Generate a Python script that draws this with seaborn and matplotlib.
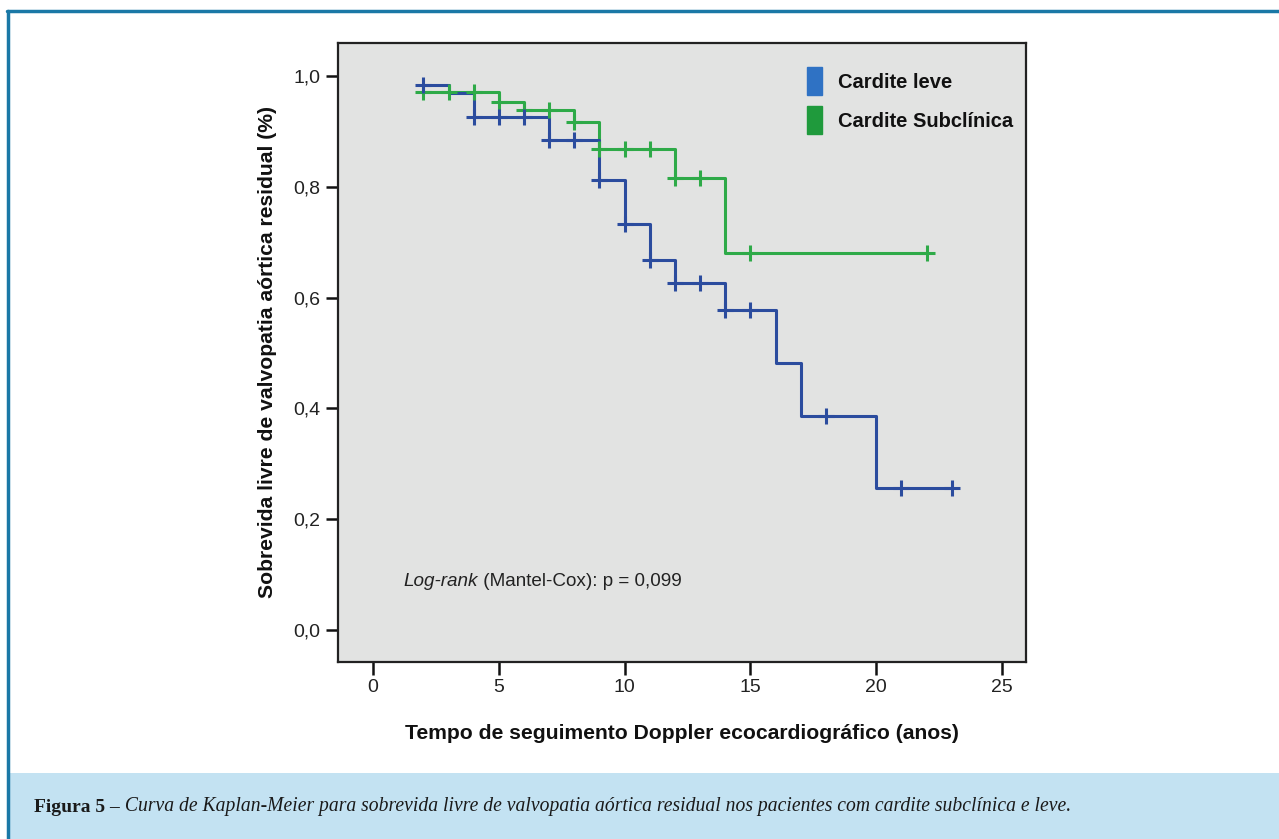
import numpy as np
import pandas as pd
import matplotlib.pyplot as plt
import seaborn as sns
from matplotlib.patches import Rectangle, Patch
from matplotlib.lines import Line2D

# !! Dados (Kaplan-Meier) !!
grupos = ['Cardite leve', 'Cardite Subclínica']

leve_tempo = [2, 3, 4, 7, 9, 10, 11, 12, 14, 16, 17, 20, 23]
leve_surv = [0.984, 0.969, 0.927, 0.884, 0.812, 0.733, 0.668, 0.626, 0.578, 0.482, 0.386, 0.256, 0.256]
leve_cens = [2, 4, 5, 6, 7, 8, 9, 10, 11, 12, 13, 14, 15, 18, 21, 23]

sub_tempo = [2, 5, 6, 8, 9, 12, 14, 22]
sub_surv = [0.972, 0.954, 0.939, 0.917, 0.868, 0.816, 0.680, 0.680]
sub_cens = [2, 3, 4, 5, 6, 7, 8, 9, 10, 11, 12, 13, 15, 22]

y_ticks = [0.0, 0.2, 0.4, 0.6, 0.8, 1.0]
y_labels = ['0,0', '0,2', '0,4', '0,6', '0,8', '1,0']
x_ticks = [0, 5, 10, 15, 20, 25]

cores = {'Cardite leve': '#2b4c9e', 'Cardite Subclínica': '#2eaa48'}
cores_leg = {'Cardite leve': '#2f72c4', 'Cardite Subclínica': '#1f9a3c'}


def valor_degrau(tempos, surv, t):
    # valor da curva em degrau (post) no tempo t
    i = np.searchsorted(tempos, t, side='right') - 1
    return surv[max(i, 0)]


curvas = pd.concat([
    pd.DataFrame({'tempo': leve_tempo, 'surv': leve_surv, 'grupo': grupos[0]}),
    pd.DataFrame({'tempo': sub_tempo, 'surv': sub_surv, 'grupo': grupos[1]}),
])
censuras = pd.concat([
    pd.DataFrame({'tempo': leve_cens,
                  'surv': [valor_degrau(leve_tempo, leve_surv, t) for t in leve_cens],
                  'grupo': grupos[0]}),
    pd.DataFrame({'tempo': sub_cens,
                  'surv': [valor_degrau(sub_tempo, sub_surv, t) for t in sub_cens],
                  'grupo': grupos[1]}),
])

sns.set_style('ticks')
plt.rcParams['font.family'] = ['Liberation Sans', 'DejaVu Sans']

fig = plt.figure(figsize=(12.79, 8.39), dpi=100)
ax = fig.add_axes([0.2643, 0.2110, 0.5379, 0.7378])
ax.set_facecolor('#e2e3e2')

# !! Curvas !!
for g in grupos[::-1]:
    d = curvas[curvas['grupo'] == g]
    sns.lineplot(data=d, x='tempo', y='surv', ax=ax, color=cores[g], lw=2.2,
                 drawstyle='steps-post', estimator=None, sort=False, legend=False)
    c = censuras[censuras['grupo'] == g]
    sns.scatterplot(data=c, x='tempo', y='surv', ax=ax, color=cores[g], marker='+',
                    s=120, linewidth=2.2, legend=False, zorder=3)

ax.set_xlim(-1.39, 25.95)
ax.set_ylim(-0.058, 1.06)
ax.set_xticks(x_ticks)
ax.set_xticklabels([str(x) for x in x_ticks], fontsize=14, color='#222222')
ax.set_yticks(y_ticks)
ax.set_yticklabels(y_labels, fontsize=14, color='#222222')
ax.tick_params(axis='both', direction='out', length=9, width=1.8, color='#111111', pad=3.5)
for s in ax.spines.values():
    s.set_linewidth(1.6)
    s.set_color('#222222')

ax.set_xlabel('Tempo de seguimento Doppler ecocardiográfico (anos)', fontsize=15.2,
              fontweight='bold', labelpad=20, color='#111111')
ax.set_ylabel('Sobrevida livre de valvopatia aórtica residual (%)', fontsize=15.2,
              fontweight='bold', labelpad=12, color='#111111')

# !! Texto do log-rank !!
t1 = ax.text(1.2, 0.087, 'Log-rank', style='italic', fontsize=13.6, va='center', color='#222222')
ax.annotate(' (Mantel-Cox): p = 0,099', xy=(1, 0.5), xycoords=t1, va='center',
            fontsize=13.6, color='#222222')

# !! Legenda !!
handles = [Patch(facecolor=cores_leg[g], edgecolor=cores_leg[g]) for g in grupos]
leg = ax.legend(handles, grupos, loc='upper left', bbox_to_anchor=(0.655, 0.99),
                frameon=False, handlelength=0.75, handleheight=1.75, handletextpad=0.8,
                labelspacing=0.55, prop={'weight': 'bold', 'size': 14.5})
for t in leg.get_texts():
    t.set_color('#111111')

# !! Moldura e legenda da figura !!
fig.add_artist(Line2D([7 / 1279, 1], [1 - 11 / 839, 1 - 11 / 839], color='#1a78a6',
                      lw=2.5, transform=fig.transFigure))
fig.add_artist(Line2D([8 / 1279, 8 / 1279], [0, 1 - 11 / 839], color='#1a78a6',
                      lw=2.5, transform=fig.transFigure))
fig.add_artist(Rectangle((10 / 1279, 0), 1, 66 / 839, facecolor='#c3e2f2',
                         edgecolor='none', transform=fig.transFigure, zorder=0))
c1 = fig.text(34 / 1279, 1 - 807 / 839, 'Figura 5 –', fontsize=14, fontweight='bold',
              family=['Liberation Serif', 'DejaVu Serif'], va='center', color='#1a1a1a')
plt.annotate(' Curva de Kaplan-Meier para sobrevida livre de valvopatia aórtica residual nos pacientes com cardite subclínica e leve.',
             xy=(1, 0.5), xycoords=c1, va='center', fontsize=14.1, style='italic',
             family=['Liberation Serif', 'DejaVu Serif'], color='#1a1a1a',
             annotation_clip=False)

fig.savefig('out.png', dpi=100)
